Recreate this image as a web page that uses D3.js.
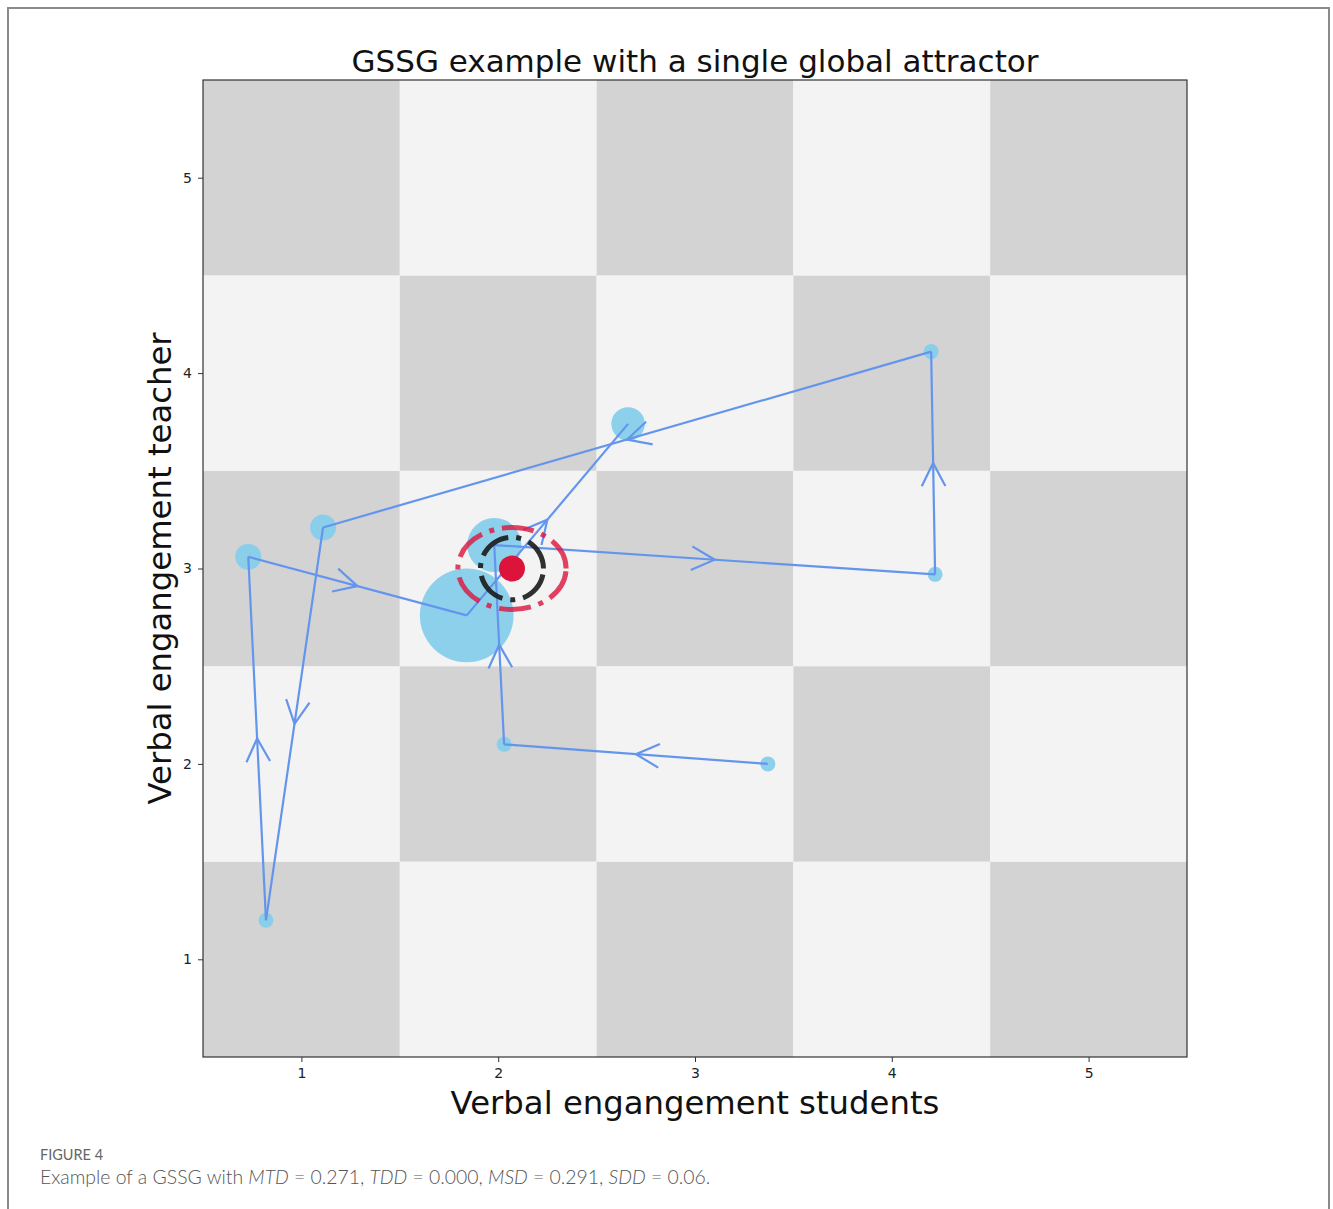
<!DOCTYPE html>
<html>
<head>
<meta charset="utf-8">
<script src="https://cdn.jsdelivr.net/npm/d3@7"></script>
<style>
  html, body { margin: 0; padding: 0; background: #fff; }
  svg { display: block; }
</style>
</head>
<body>
<svg id="fig" width="1333" height="1209"></svg>
<script>
// Grid levels of the state space (both axes)
const levels = [1, 2, 3, 4, 5];
const xTicks = [1, 2, 3, 4, 5];
const yTicks = [1, 2, 3, 4, 5];

// Trajectory through the state space, in visiting order
const stepStudents = [3.37, 2.03, 1.98, 4.22, 4.20, 1.11, 0.82, 0.73, 1.84, 2.66];
const stepTeacher  = [2.00, 2.10, 3.12, 2.97, 4.11, 3.21, 1.20, 3.06, 2.76, 3.74];
// Time spent in each state (marker area grows with it)
const stepDuration = [1, 1, 13, 1, 1, 3, 1, 3, 39, 5];

// Global attractor and its dispersion rings
const attractor = [2.07, 3.00];
const innerRing = [0.16, 0.16];
const outerRing = [0.275, 0.21];

const title = "GSSG example with a single global attractor";
const xLabel = "Verbal engangement students";
const yLabel = "Verbal engangement teacher";

const svg = d3.select("#fig");
const W = 1333, H = 1209;

// Figure frame
svg.append("path")
  .attr("d", `M8,${H} L8,8 L1329,8 L1329,${H}`)
  .attr("fill", "none").attr("stroke", "#8a8a8a").attr("stroke-width", 2);

const plot = { left: 203, right: 1187, top: 80, bottom: 1057 };
const x = d3.scaleLinear().domain([0.5, 5.5]).range([plot.left, plot.right]);
const y = d3.scaleLinear().domain([0.5, 5.5]).range([plot.bottom, plot.top]);
const rScale = d3.scaleSqrt().domain([0, 1]).range([0, 7.5]);

const g = svg.append("g");

// Checkerboard background
const cells = [];
levels.forEach(i => levels.forEach(j => cells.push({ i, j })));
g.selectAll("rect.cell").data(cells).join("rect")
  .attr("class", "cell")
  .attr("x", d => x(d.i - 0.5))
  .attr("y", d => y(d.j + 0.5))
  .attr("width", d => x(d.i + 0.5) - x(d.i - 0.5))
  .attr("height", d => y(d.j - 0.5) - y(d.j + 0.5))
  .attr("fill", d => (d.i + d.j) % 2 === 0 ? "#d3d3d3" : "#f3f3f3");

// Axes
const xAxis = g.append("g").attr("transform", `translate(0,${plot.bottom})`)
  .call(d3.axisBottom(x).tickValues(xTicks).tickSize(5).tickPadding(6).tickFormat(d3.format("d")));
const yAxis = g.append("g").attr("transform", `translate(${plot.left},0)`)
  .call(d3.axisLeft(y).tickValues(yTicks).tickSize(5).tickPadding(6).tickFormat(d3.format("d")));
[xAxis, yAxis].forEach(a => {
  a.select(".domain").remove();
  a.selectAll("line").attr("stroke", "#333");
  a.selectAll("text").attr("font-family", "DejaVu Sans").attr("font-size", 14).attr("fill", "#222");
});

g.append("rect")
  .attr("x", plot.left).attr("y", plot.top)
  .attr("width", plot.right - plot.left).attr("height", plot.bottom - plot.top)
  .attr("fill", "none").attr("stroke", "#333").attr("stroke-width", 1.2);

// Markers for visited states
const steps = stepStudents.map((sx, k) => ({ sx, sy: stepTeacher[k], dur: stepDuration[k] }));
g.selectAll("circle.step").data(steps).join("circle")
  .attr("class", "step")
  .attr("cx", d => x(d.sx)).attr("cy", d => y(d.sy))
  .attr("r", d => rScale(d.dur))
  .attr("fill", "#87ceeb").attr("fill-opacity", 0.95);

// Transitions with an open arrow head at each segment's midpoint
const lineColor = "#6495ed";
const segs = d3.pairs(steps);
g.selectAll("line.move").data(segs).join("line")
  .attr("class", "move")
  .attr("x1", d => x(d[0].sx)).attr("y1", d => y(d[0].sy))
  .attr("x2", d => x(d[1].sx)).attr("y2", d => y(d[1].sy))
  .attr("stroke", lineColor).attr("stroke-width", 2.2);

const headLen = 26, headAng = 27 * Math.PI / 180;
g.selectAll("path.head").data(segs).join("path")
  .attr("class", "head")
  .attr("d", d => {
    const x0 = x(d[0].sx), y0 = y(d[0].sy), x1 = x(d[1].sx), y1 = y(d[1].sy);
    const mx = (x0 + x1) / 2, my = (y0 + y1) / 2;
    const back = Math.atan2(y0 - y1, x0 - x1);
    const p = d3.path();
    p.moveTo(mx + headLen * Math.cos(back + headAng), my + headLen * Math.sin(back + headAng));
    p.lineTo(mx, my);
    p.lineTo(mx + headLen * Math.cos(back - headAng), my + headLen * Math.sin(back - headAng));
    return p.toString();
  })
  .attr("fill", "none").attr("stroke", lineColor).attr("stroke-width", 2.2)
  .attr("stroke-linejoin", "miter");

// Attractor rings, drawn counter-clockwise from the rightmost point
function ringPath(c, rx, ry) {
  const cx = x(c[0]), cy = y(c[1]);
  const a = x(c[0] + rx) - cx, b = cy - y(c[1] + ry);
  return `M${cx + a},${cy} A${a},${b} 0 1 0 ${cx - a},${cy} A${a},${b} 0 1 0 ${cx + a},${cy}`;
}
g.append("path")
  .attr("d", ringPath(attractor, outerRing[0], outerRing[1]))
  .attr("fill", "none").attr("stroke", "#dc143c").attr("stroke-opacity", 0.8)
  .attr("stroke-width", 5).attr("stroke-dasharray", "32 8 5 8");
g.append("path")
  .attr("d", ringPath(attractor, innerRing[0], innerRing[1]))
  .attr("fill", "none").attr("stroke", "#1a1a1a").attr("stroke-opacity", 0.9)
  .attr("stroke-width", 5).attr("stroke-dasharray", "32 8 5 8");
g.append("circle")
  .attr("cx", x(attractor[0])).attr("cy", y(attractor[1])).attr("r", 13)
  .attr("fill", "#dc143c");

// Titles
svg.append("text")
  .attr("x", (plot.left + plot.right) / 2).attr("y", 72)
  .attr("text-anchor", "middle").attr("font-family", "DejaVu Sans").attr("font-size", 31)
  .attr("fill", "#111").text(title);
svg.append("text")
  .attr("x", (plot.left + plot.right) / 2).attr("y", 1114)
  .attr("text-anchor", "middle").attr("font-family", "DejaVu Sans").attr("font-size", 32.3)
  .attr("fill", "#111").text(xLabel);
svg.append("text")
  .attr("transform", `translate(171,${(plot.top + plot.bottom) / 2}) rotate(-90)`)
  .attr("text-anchor", "middle").attr("font-family", "DejaVu Sans").attr("font-size", 32.3)
  .attr("fill", "#111").text(yLabel);

// Caption
svg.append("text")
  .attr("x", 40).attr("y", 1160)
  .attr("font-family", "Lato").attr("font-size", 14.5).attr("fill", "#666")
  .text("FIGURE 4");
const cap = svg.append("text")
  .attr("x", 40).attr("y", 1184)
  .attr("font-family", "Lato").attr("font-size", 19.4).attr("font-weight", 300).attr("fill", "#555");
const capParts = [
  ["Example of a GSSG with ", false], ["MTD", true], [" = 0.271, ", false],
  ["TDD", true], [" = 0.000, ", false], ["MSD", true], [" = 0.291, ", false],
  ["SDD", true], [" = 0.06.", false]
];
capParts.forEach(([t, it]) => cap.append("tspan").attr("font-style", it ? "italic" : "normal").text(t));
</script>
</body>
</html>
